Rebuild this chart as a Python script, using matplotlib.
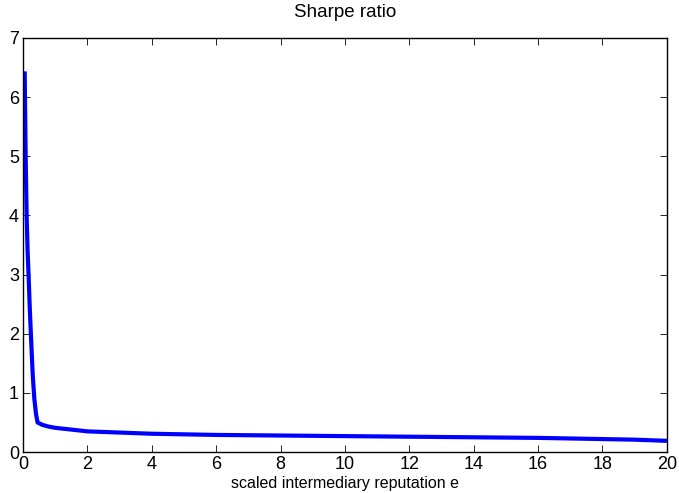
import matplotlib
matplotlib.use("Agg")
import matplotlib.pyplot as plt

# reputation grid and the Sharpe ratio read along it
reputation = [0.05, 0.08, 0.11, 0.14, 0.17, 0.21, 0.25, 0.30, 0.35, 0.40, 0.45,
              0.6, 0.8, 1.0, 1.5, 2, 3, 4, 6, 8, 10, 12, 14, 16, 18, 19, 20]
sharpe = [6.4, 5.0, 4.0, 3.4, 3.0, 2.4, 1.9, 1.3, 0.9, 0.65, 0.5,
          0.46, 0.43, 0.41, 0.38, 0.35, 0.33, 0.31, 0.29, 0.28, 0.27, 0.26, 0.25, 0.24, 0.22, 0.21, 0.19]

xticks = list(range(0, 21, 2))
yticks = list(range(0, 8))

plt.rcParams['font.family'] = ['Liberation Sans', 'DejaVu Sans']

fig = plt.figure(figsize=(6.79, 4.93), dpi=100)
ax = fig.add_axes([0.034, 0.083, 0.948, 0.84])
ax.plot(reputation, sharpe, color='#0000ff', linewidth=3)

ax.set_xlim(0, 20)
ax.set_ylim(0, 7)
ax.set_xticks(xticks)
ax.set_yticks(yticks)
ax.tick_params(direction='in', top=True, right=True, length=5, width=0.6,
               labelsize=13, pad=3)
for s in ax.spines.values():
    s.set_linewidth(1.0)

ax.set_title('Sharpe ratio', fontsize=13.5, pad=15)
ax.set_xlabel('scaled intermediary reputation e', fontsize=11.5, labelpad=2)

fig.savefig('out.png', dpi=100)
